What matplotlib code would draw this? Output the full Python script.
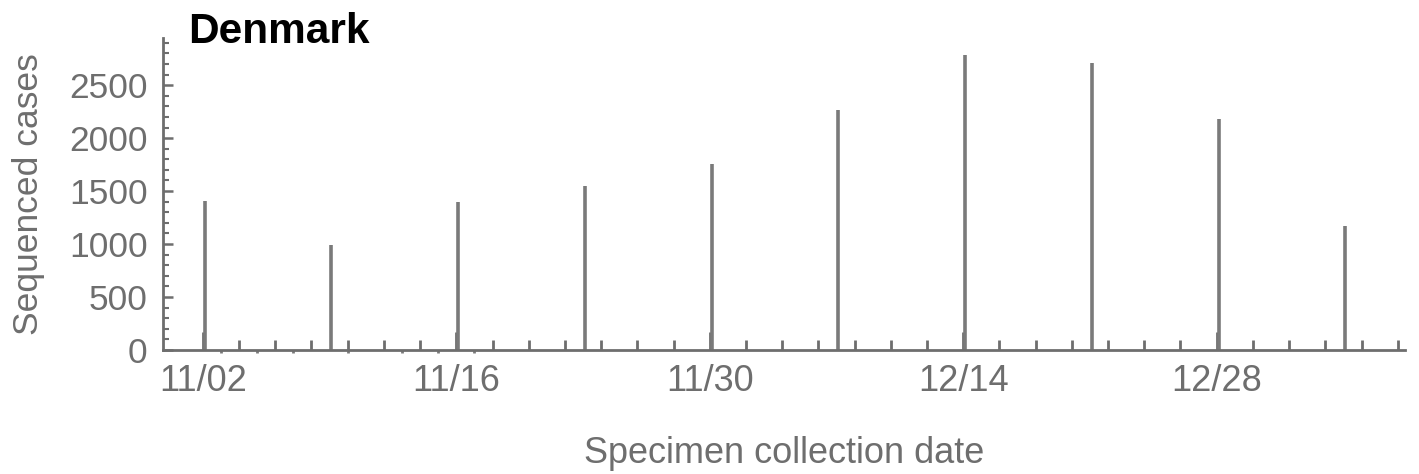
#!/usr/bin/env python3
"""Weekly sequenced cases, Denmark."""
import datetime as dt
import matplotlib
matplotlib.use("Agg")
import matplotlib.pyplot as plt
import matplotlib.dates as mdates
from matplotlib.ticker import FixedLocator, MultipleLocator

week_dates = ["2020-11-02", "2020-11-09", "2020-11-16", "2020-11-23", "2020-11-30",
              "2020-12-07", "2020-12-14", "2020-12-21", "2020-12-28", "2021-01-04"]
cases = [1410, 990, 1395, 1545, 1760, 2265, 2780, 2710, 2180, 1170]

# tiny marks just under the axis in the first weeks
faint_dates = ["2020-11-03", "2020-11-05", "2020-11-07", "2020-11-10",
               "2020-11-13", "2020-11-15", "2020-11-17"]

label_dates = ["2020-11-02", "2020-11-16", "2020-11-30", "2020-12-14", "2020-12-28"]

GRAY = "#6e6e6e"
BAR = "#7a7a7a"
FONT = "Liberation Sans"

def d2n(s):
    return mdates.date2num(dt.datetime.strptime(s, "%Y-%m-%d"))

plt.rcParams["font.family"] = [FONT, "DejaVu Sans"]

fig = plt.figure(figsize=(14.19, 4.74), dpi=100)
ax = fig.add_axes([163 / 1419, 1 - 350 / 474, (1405 - 163) / 1419, (350 - 38) / 474])

x = [d2n(s) + 0.1 for s in week_dates]
ax.vlines(x, 0, cases, color=BAR, linewidth=2.6)

xf = [d2n(s) for s in faint_dates]
ax.vlines(xf, -25, 0, color=BAR, linewidth=2.0, clip_on=False)

x0 = d2n("2020-11-02")
ax.set_xlim(x0 - 2.2, x0 + 66.4)
ax.set_ylim(0, 2945)

ax.xaxis.set_major_locator(FixedLocator([d2n(s) for s in label_dates]))
ax.xaxis.set_minor_locator(FixedLocator([x0 + 2 * i for i in range(34)]))
ax.xaxis.set_major_formatter(mdates.DateFormatter("%m/%d"))
ax.yaxis.set_major_locator(MultipleLocator(500))
ax.yaxis.set_minor_locator(MultipleLocator(100))

for side in ["top", "right"]:
    ax.spines[side].set_visible(False)
for side in ["left", "bottom"]:
    ax.spines[side].set_color(GRAY)
    ax.spines[side].set_linewidth(2.0)

ax.tick_params(axis="x", which="major", direction="in", length=13, width=2.0,
               color=GRAY, labelcolor=GRAY, labelsize=26, pad=10)
ax.tick_params(axis="x", which="minor", direction="in", length=7.5, width=2.0, color=GRAY)
ax.tick_params(axis="y", which="major", direction="in", length=7, width=1.8,
               color=GRAY, labelcolor=GRAY, labelsize=25.5, pad=11)
ax.tick_params(axis="y", which="minor", direction="in", length=4, width=1.5, color=GRAY)

ax.set_xlabel("Specimen collection date", fontsize=26, color=GRAY, labelpad=27)
ax.set_ylabel("Sequenced cases", fontsize=25.5, color=GRAY, labelpad=17)

fig.text(188 / 1419, 1 - 43 / 474, "Denmark", fontsize=30.5, fontweight="bold",
         color="black", ha="left", va="baseline")

fig.savefig("out.png", dpi=100)
